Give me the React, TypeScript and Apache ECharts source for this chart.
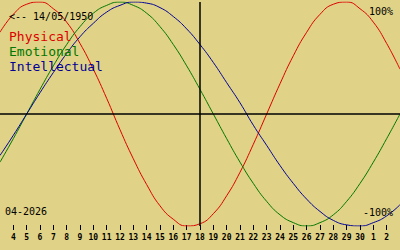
import React, { useEffect, useRef } from "react";
import * as echarts from "echarts";

// Day labels along the x axis (April 2026 days 3..30, then May 1..3)
const DAY_LABELS = [
  "3", "4", "5", "6", "7", "8", "9", "10", "11", "12", "13", "14", "15", "16", "17",
  "18", "19", "20", "21", "22", "23", "24", "25", "26", "27", "28", "29", "30", "1", "2", "3",
];
const TODAY = "18";

const PHYSICAL = [
  0.73, 0.89, 0.98, 1.0, 0.94, 0.82, 0.63, 0.4, 0.14, -0.14, -0.4, -0.63, -0.82, -0.94, -1.0,
  -0.98, -0.89, -0.73, -0.52, -0.27, 0.0, 0.27, 0.52, 0.73, 0.89, 0.98, 1.0, 0.94, 0.82, 0.63, 0.4,
];
const EMOTIONAL = [
  -0.43, -0.22, 0.0, 0.22, 0.43, 0.62, 0.78, 0.9, 0.97, 1.0, 0.97, 0.9, 0.78, 0.62, 0.43,
  0.22, 0.0, -0.22, -0.43, -0.62, -0.78, -0.9, -0.97, -1.0, -0.97, -0.9, -0.78, -0.62, -0.43, -0.22, 0.0,
];
const INTELLECTUAL = [
  -0.37, -0.19, 0.0, 0.19, 0.37, 0.54, 0.69, 0.81, 0.91, 0.97, 1.0, 0.99, 0.95, 0.87, 0.76,
  0.62, 0.46, 0.28, 0.1, -0.1, -0.28, -0.46, -0.62, -0.76, -0.87, -0.95, -0.99, -1.0, -0.97, -0.91, -0.81,
];

const SERIES_NAMES = ["Physical", "Emotional", "Intellectual"];
const SERIES_COLORS = ["#dd0000", "#007700", "#000099"];
const BIRTH_LABEL = "<-- 14/05/1950";
const MONTH_LABEL = "04-2026";
const MAX_LABEL = "100%";
const MIN_LABEL = "-100%";

const BG = "#e0d286";
const MONO = "'DejaVu Sans Mono', 'Liberation Mono', monospace";

export default function App() {
  const ref = useRef<HTMLDivElement>(null);

  useEffect(() => {
    if (!ref.current) return;
    const chart = echarts.init(ref.current, undefined, { renderer: "svg" });
    const last = DAY_LABELS.length - 1;
    const todayIndex = DAY_LABELS.indexOf(TODAY);
    const values = [PHYSICAL, EMOTIONAL, INTELLECTUAL];

    chart.setOption({
      animation: false,
      backgroundColor: BG,
      grid: { left: 0, right: 0, top: 2, bottom: 24 },
      xAxis: {
        type: "category",
        data: DAY_LABELS,
        boundaryGap: false,
        offset: -1,
        axisLine: { show: false, onZero: false },
        axisTick: {
          show: true,
          length: 5,
          interval: (i: number) => i !== 0 && i !== last,
          lineStyle: { color: "#000", width: 1 },
        },
        axisLabel: {
          interval: (i: number) => i !== 0 && i !== last,
          margin: 8,
          color: "#000",
          fontFamily: MONO,
          fontSize: 8,
          fontWeight: "bold",
        },
        splitLine: { show: false },
      },
      yAxis: {
        type: "value",
        min: -1,
        max: 1,
        show: false,
        splitLine: { show: false },
      },
      series: values.map((v, i) => ({
        name: SERIES_NAMES[i],
        type: "line",
        data: v,
        smooth: true,
        showSymbol: false,
        lineStyle: { color: SERIES_COLORS[i], width: 1 },
        itemStyle: { color: SERIES_COLORS[i] },
        z: 3,
        markLine:
          i === 0
            ? {
                silent: true,
                symbol: "none",
                label: { show: false },
                lineStyle: { color: "#000", width: 1.5, type: "solid" },
                data: [{ xAxis: todayIndex }, { yAxis: 0 }],
              }
            : undefined,
      })),
      graphic: [
        {
          type: "text",
          left: 9,
          top: 11,
          style: { text: BIRTH_LABEL, fill: "#000", font: `10px ${MONO}` },
          z: 10,
        },
        ...SERIES_NAMES.map((name, i) => ({
          type: "text",
          left: 9,
          top: 30 + i * 15,
          style: { text: name, fill: SERIES_COLORS[i], font: `13px ${MONO}` },
          z: 10,
        })),
        {
          type: "text",
          right: 7,
          top: 6,
          style: { text: MAX_LABEL, fill: "#000", font: `10px ${MONO}` },
          z: 10,
        },
        {
          type: "text",
          right: 7,
          top: 207,
          style: { text: MIN_LABEL, fill: "#000", font: `10px ${MONO}` },
          z: 10,
        },
        {
          type: "text",
          left: 5,
          top: 206,
          style: { text: MONTH_LABEL, fill: "#000", font: `10px ${MONO}` },
          z: 10,
        },
      ],
    });

    return () => chart.dispose();
  }, []);

  return (
    <div
      ref={ref}
      style={{ position: "fixed", left: 0, top: 0, width: 400, height: 250, background: BG }}
    />
  );
}
